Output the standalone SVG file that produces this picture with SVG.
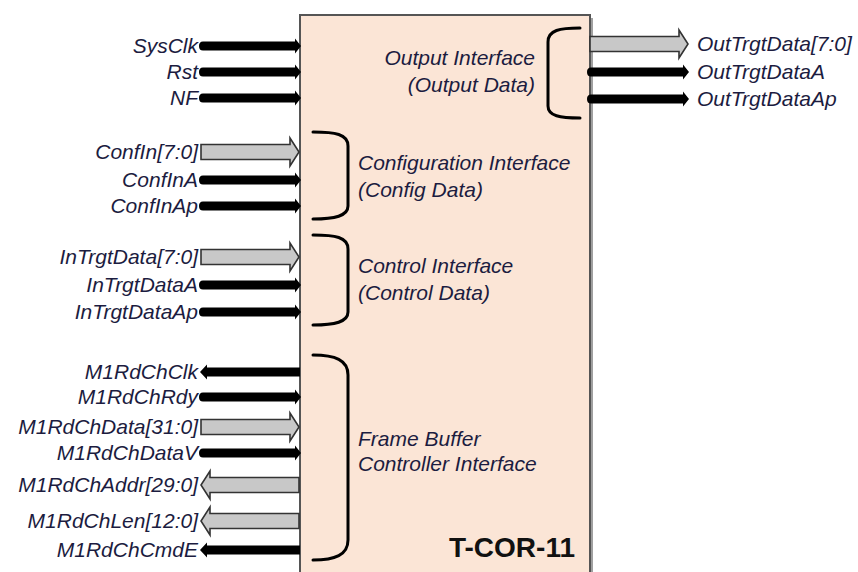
<svg xmlns="http://www.w3.org/2000/svg" width="858" height="572" viewBox="0 0 858 572">
<style>
.lbl{font-family:"Liberation Sans",Arial,sans-serif;font-size:21px;font-style:italic;fill:#1c1c40}
.end{text-anchor:end}
.blk{fill:#000}
.bus{fill:#c8c8c8;stroke:#333;stroke-width:1.6;stroke-linejoin:miter}
.brace{fill:none;stroke:#000;stroke-width:3;stroke-linecap:round}
.title{font-family:"Liberation Sans",Arial,sans-serif;font-size:28px;font-weight:bold;fill:#111}
</style>
<defs>
<path id="inR" d="M203,-4.5 L295,-4.5 L295,-7.5 L301,0 L295,7.5 L295,4.5 L203,4.5 Q199,4.5 199,0 Q199,-4.5 203,-4.5 Z"/>
<path id="inL" d="M300,-4.5 L207,-4.5 L207,-7.5 L200,0 L207,7.5 L207,4.5 L300,4.5 Z"/>
<path id="busR" d="M201,-7.5 L290,-7.5 L290,-14 L299,0 L290,14 L290,7.5 L201,7.5 Z"/>
<path id="busL" d="M299,-7.5 L210,-7.5 L210,-14 L201,0 L210,14 L210,7.5 L299,7.5 Z"/>
</defs>
<rect width="858" height="572" fill="#fff"/>
<g id="tcor11">
<rect x="303" y="18" width="290" height="580" fill="#a0a0a0"/>
<rect x="300" y="15" width="290" height="580" fill="#fbe5d6" stroke="#555" stroke-width="2"/>
<text class="title" x="575" y="557" text-anchor="end">T-COR-11</text>
</g>
<g id="braces">
<path class="brace" d="M580,28 C560,28 548,30 548,42 L548,106 C548,116 560,118 580,118"/>
<path class="brace" d="M313,132 C335,132 348,134 348,146 L348,206 C348,216 335,219 313,219"/>
<path class="brace" d="M313,235 C335,235 348,237 348,249 L348,312 C348,322 335,325 313,325"/>
<path class="brace" d="M313,355 C335,355 348,360 348,375 L348,540 C348,555 335,560 313,560"/>
</g>
<g id="output-interface">
<text class="lbl end" x="535" y="65">Output Interface</text>
<text class="lbl end" x="535" y="92">(Output Data)</text>
</g>
<g id="configuration-interface">
<text class="lbl" x="358" y="170">Configuration Interface</text>
<text class="lbl" x="358" y="197">(Config Data)</text>
</g>
<g id="control-interface">
<text class="lbl" x="358" y="273">Control Interface</text>
<text class="lbl" x="358" y="300">(Control Data)</text>
</g>
<g id="frame-buffer-interface">
<text class="lbl" x="358" y="446">Frame Buffer</text>
<text class="lbl" x="358" y="471">Controller Interface</text>
</g>
<g id="connectors">
<use href="#inR" class="blk" y="46"/>
<use href="#inR" class="blk" y="72"/>
<use href="#inR" class="blk" y="98"/>
<use href="#busR" class="bus" y="152"/>
<use href="#inR" class="blk" y="180"/>
<use href="#inR" class="blk" y="206"/>
<use href="#busR" class="bus" y="257"/>
<use href="#inR" class="blk" y="285"/>
<use href="#inR" class="blk" y="312"/>
<use href="#inL" class="blk" y="372"/>
<use href="#inR" class="blk" y="397"/>
<use href="#busR" class="bus" y="427"/>
<use href="#inR" class="blk" y="453"/>
<use href="#busL" class="bus" y="485"/>
<use href="#busL" class="bus" y="521"/>
<use href="#inL" class="blk" y="550"/>
<use href="#busR" class="bus" x="389" y="44"/>
<use href="#inR" class="blk" x="388" y="72"/>
<use href="#inR" class="blk" x="388" y="99"/>
</g>
<g id="signal-labels">
<text class="lbl end" x="198" y="53">SysClk</text>
<text class="lbl end" x="198" y="79">Rst</text>
<text class="lbl end" x="198" y="105">NF</text>
<text class="lbl end" x="198" y="159">ConfIn[7:0]</text>
<text class="lbl end" x="198" y="187">ConfInA</text>
<text class="lbl end" x="198" y="213">ConfInAp</text>
<text class="lbl end" x="198" y="264">InTrgtData[7:0]</text>
<text class="lbl end" x="198" y="292">InTrgtDataA</text>
<text class="lbl end" x="198" y="319">InTrgtDataAp</text>
<text class="lbl end" x="198" y="379">M1RdChClk</text>
<text class="lbl end" x="198" y="404">M1RdChRdy</text>
<text class="lbl end" x="198" y="434">M1RdChData[31:0]</text>
<text class="lbl end" x="198" y="460">M1RdChDataV</text>
<text class="lbl end" x="198" y="492">M1RdChAddr[29:0]</text>
<text class="lbl end" x="198" y="528">M1RdChLen[12:0]</text>
<text class="lbl end" x="198" y="557">M1RdChCmdE</text>
<text class="lbl" x="697" y="51">OutTrgtData[7:0]</text>
<text class="lbl" x="697" y="79">OutTrgtDataA</text>
<text class="lbl" x="697" y="106">OutTrgtDataAp</text>
</g>
</svg>
